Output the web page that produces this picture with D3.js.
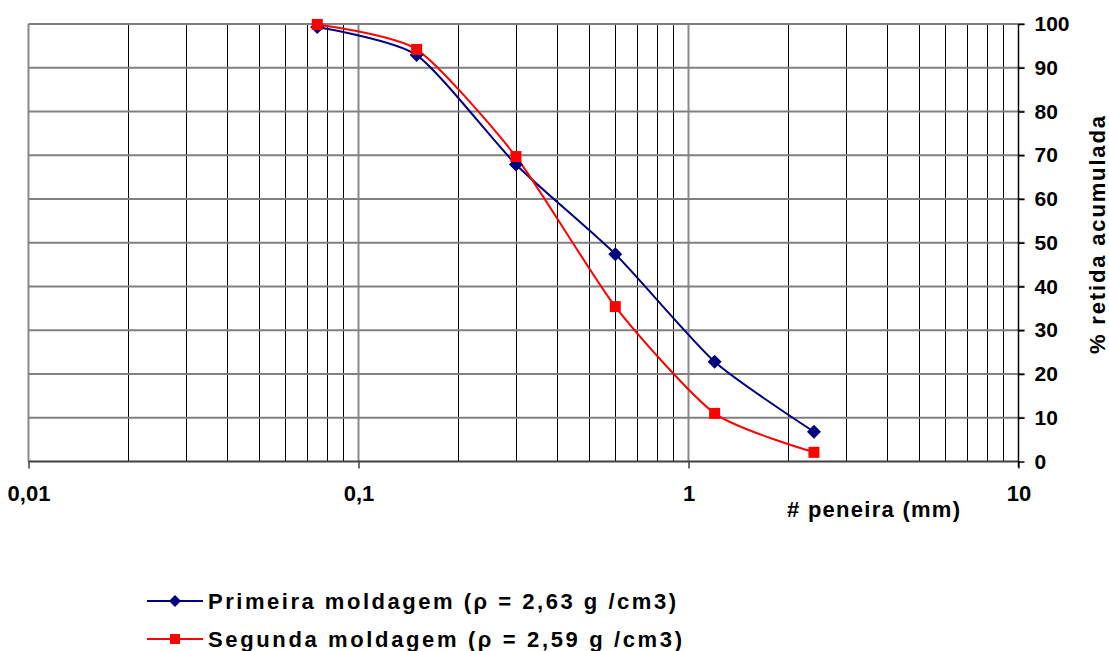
<!DOCTYPE html>
<html>
<head>
<meta charset="utf-8">
<script src="https://cdn.jsdelivr.net/npm/d3@7"></script>
<style>
  html, body { margin: 0; padding: 0; background: #fff; }
  svg { display: block; }
  svg text { font-family: "Liberation Sans", Arial, sans-serif; font-weight: 700; fill: #000; }
</style>
</head>
<body>
<svg id="chart" width="1109" height="651"></svg>
<script>
// ---- Data ----
const sieves = [0.075, 0.15, 0.3, 0.6, 1.2, 2.4];           // # peneira (mm)
const primeira = [99.3, 92.9, 67.9, 47.4, 22.8, 6.8];       // % retida acumulada
const segunda  = [99.9, 94.2, 69.7, 35.4, 11.0, 2.1];
const yTicks = [0, 10, 20, 30, 40, 50, 60, 70, 80, 90, 100];
const xMajorTicks = [0.01, 0.1, 1, 10];
const xTickLabels = ["0,01", "0,1", "1", "10"];
const seriesNames = ["Primeira moldagem (\u03C1 = 2,63 g /cm3)", "Segunda moldagem (\u03C1 = 2,59 g /cm3)"];
const xTitle = "# peneira (mm)";
const yTitle = "% retida acumulada";

// ---- Layout ----
const L = 28.5, R = 1018.5, T = 24, B = 461.5;
const svg = d3.select("#chart");
svg.append("rect").attr("width", 1109).attr("height", 651).attr("fill", "#fff");

const x = d3.scaleLog().domain([0.01, 10]).range([L, R]);
const y = d3.scaleLinear().domain([0, 100]).range([B, T]);

// minor vertical grid
const minor = [];
[0.01, 0.1, 1].forEach(d => { for (let k = 2; k <= 9; k++) minor.push(+(d * k).toPrecision(3)); });
svg.append("g").selectAll("line").data(minor).join("line")
  .attr("x1", d => Math.round(x(d)) + 0.5).attr("x2", d => Math.round(x(d)) + 0.5)
  .attr("y1", T).attr("y2", B)
  .attr("stroke", "#000").attr("stroke-width", 1);

// major vertical grid
svg.append("g").selectAll("line").data([0.01, 0.1, 1]).join("line")
  .attr("x1", d => x(d)).attr("x2", d => x(d))
  .attr("y1", T).attr("y2", B)
  .attr("stroke", "#8a8a8a").attr("stroke-width", 2);

// horizontal grid + right ticks
svg.append("g").selectAll("line").data(yTicks.filter(d => d > 0)).join("line")
  .attr("x1", L).attr("x2", R + 6)
  .attr("y1", d => y(d)).attr("y2", d => y(d))
  .attr("stroke", "#808080").attr("stroke-width", 2);

// bottom axis
const xAxis = d3.axisBottom(x).tickValues(xMajorTicks).tickSize(7)
  .tickFormat((d, i) => xTickLabels[i]).tickPadding(17);
const gx = svg.append("g").attr("transform", `translate(0,${B})`).call(xAxis);
gx.attr("font-family", null).attr("font-size", null);
gx.select(".domain").attr("stroke", "#404040").attr("stroke-width", 2).attr("d", `M${L},0H${R}`);
gx.selectAll(".tick line").attr("stroke", "#404040").attr("stroke-width", 1.5);
gx.selectAll(".tick text").style("font-size", "22px").attr("fill", "#000");

// right axis
const yAxis = d3.axisRight(y).tickValues(yTicks).tickSize(6).tickPadding(10);
const gy = svg.append("g").attr("transform", `translate(${R},0)`).call(yAxis);
gy.attr("font-family", null).attr("font-size", null);
gy.select(".domain").attr("stroke", "#000").attr("stroke-width", 1.5).attr("d", `M0,${T}V${B + 6}`);
gy.selectAll(".tick line").attr("stroke", "#000").attr("stroke-width", 1.5);
gy.selectAll(".tick text").style("font-size", "21px").attr("fill", "#000");

// axis titles
svg.append("text").attr("x", 787).attr("y", 517)
  .style("font-size", "22px").attr("textLength", 173).attr("lengthAdjust", "spacing")
  .text(xTitle);
svg.append("text").attr("transform", "translate(1105,235) rotate(-90)")
  .attr("text-anchor", "middle").style("font-size", "22px")
  .attr("textLength", 238).attr("lengthAdjust", "spacing")
  .text(yTitle);

// series
const line = d3.line().x(d => x(d[0])).y(d => y(d[1])).curve(d3.curveCardinal.tension(0.35));
const s1 = sieves.map((d, i) => [d, primeira[i]]);
const s2 = sieves.map((d, i) => [d, segunda[i]]);
const diamond = r => `M0,${-r}L${r},0L0,${r}L${-r},0Z`;

svg.append("path").datum(s1).attr("d", line).attr("fill", "none").attr("stroke", "#000080").attr("stroke-width", 2);
svg.append("path").datum(s2).attr("d", line).attr("fill", "none").attr("stroke", "#ff0000").attr("stroke-width", 2);

svg.append("g").selectAll("path").data(s1).join("path")
  .attr("transform", d => `translate(${x(d[0])},${y(d[1])})`)
  .attr("d", diamond(7)).attr("fill", "#000080");
svg.append("g").selectAll("rect").data(s2).join("rect")
  .attr("x", d => x(d[0]) - 5.5).attr("y", d => y(d[1]) - 5.5)
  .attr("width", 11).attr("height", 11).attr("fill", "#ff0000");

// legend
const legend = [
  { name: seriesNames[0], color: "#000080", type: "diamond", y: 601, len: 468 },
  { name: seriesNames[1], color: "#ff0000", type: "square", y: 639, len: 474 }
];
const lg = svg.append("g").selectAll("g").data(legend).join("g")
  .attr("transform", d => `translate(0,${d.y})`);
lg.append("line").attr("x1", 147).attr("x2", 203).attr("y1", 0).attr("y2", 0)
  .attr("stroke", d => d.color).attr("stroke-width", 2);
lg.filter(d => d.type === "diamond").append("path")
  .attr("transform", "translate(175,0)").attr("d", diamond(6)).attr("fill", d => d.color);
lg.filter(d => d.type === "square").append("rect")
  .attr("x", 170).attr("y", -5).attr("width", 10).attr("height", 10).attr("fill", d => d.color);
lg.append("text").attr("x", 208).attr("y", 8).style("font-size", "22px")
  .attr("textLength", d => d.len).attr("lengthAdjust", "spacing")
  .text(d => d.name);
</script>
</body>
</html>
